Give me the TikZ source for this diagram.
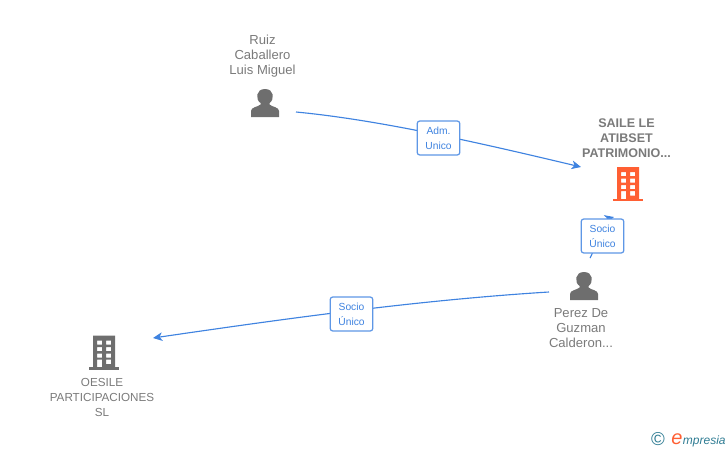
\documentclass[tikz,border=0pt]{standalone}
\usepackage{fontspec}
\setmainfont{Liberation Sans}
\usetikzlibrary{arrows.meta,positioning}
\definecolor{linkblue}{HTML}{3F83E0}
\definecolor{boxblue}{HTML}{5E97E6}
\definecolor{labelgray}{HTML}{7A7A7A}
\definecolor{icongray}{HTML}{6E6E6E}
\definecolor{firmorange}{HTML}{FF5F33}
\definecolor{logoteal}{HTML}{2F7C93}
\begin{document}
\begin{tikzpicture}[x=0.75pt,y=-0.75pt]
		\tikzset{
			person/.style={font=\fontsize{9.8}{11.2}\selectfont, text=labelgray, align=center, inner sep=0pt},
			firm/.style={person, font=\fontsize{8.75}{11.2}\selectfont},
			link/.style={draw=linkblue, line width=0.85pt},
			tag/.style={draw=boxblue, line width=0.95pt, rounded corners=2pt, fill=white, text=linkblue, align=center,
				font=\fontsize{7.7}{11.2}\selectfont, minimum width=32pt, minimum height=25.5pt, inner sep=0pt},
			tip/.style={-{Stealth[length=7pt,width=6.5pt,inset=2pt]}}
		}
		\useasboundingbox (0,0) rectangle (728,450);

		% PERSON: Ruiz
		\begin{scope}[shift={(265,103)}]
			\fill[icongray] (-14,14) -- (-14,8) .. controls (-14,4) and (-7,4) .. (-4.5,1.5) -- (-4.5,0)
			.. controls (-10,-4) and (-9,-14) .. (0,-14) .. controls (9,-14) and (10,-4) .. (4.5,0)
			-- (4.5,1.5) .. controls (7,4) and (14,4) .. (14,8) -- (14,14) -- cycle;
		\end{scope}
		\node[person] (ruiz) at (262.5,56) {Ruiz\\Caballero\\Luis Miguel};

		% PERSON: Perez
		\begin{scope}[shift={(584,286)}]
			\fill[icongray] (-14,14) -- (-14,8) .. controls (-14,4) and (-7,4) .. (-4.5,1.5) -- (-4.5,0)
			.. controls (-10,-4) and (-9,-14) .. (0,-14) .. controls (9,-14) and (10,-4) .. (4.5,0)
			-- (4.5,1.5) .. controls (7,4) and (14,4) .. (14,8) -- (14,14) -- cycle;
		\end{scope}
		\node[person] (perez) at (581,328) {Perez De\\Guzman\\Calderon...};

		% FIRM: Saile (orange)
		\begin{scope}[shift={(628,184)}]
			\fill[firmorange, even odd rule] (-11,-17) rectangle (11,15)
			(-7,-12) rectangle (-2,-8) (2,-12) rectangle (7,-8)
			(-7,-5.5) rectangle (-2,-1.5) (2,-5.5) rectangle (7,-1.5)
			(-7,1) rectangle (-2,5) (2,1) rectangle (7,5)
			(-7,7) rectangle (-2,15) (2,7) rectangle (7,11.5);
			\fill[firmorange] (-15,14.5) rectangle (15,17);
		\end{scope}
		\node[firm, font=\bfseries\fontsize{9.4}{11.2}\selectfont] (saile) at (626.5,138) {SAILE LE\\ATIBSET\\PATRIMONIO...};

		% FIRM: Oesile (gray)
		\begin{scope}[shift={(104,352.5)}]
			\fill[icongray, even odd rule] (-11,-17) rectangle (11,15)
			(-7,-12) rectangle (-2,-8) (2,-12) rectangle (7,-8)
			(-7,-5.5) rectangle (-2,-1.5) (2,-5.5) rectangle (7,-1.5)
			(-7,1) rectangle (-2,5) (2,1) rectangle (7,5)
			(-7,7) rectangle (-2,15) (2,7) rectangle (7,11.5);
			\fill[icongray] (-15,14.5) rectangle (15,17);
		\end{scope}
		\node[firm] (oesile) at (102,397.5) {OESILE\\PARTICIPACIONES\\SL};

		% Free ends of the links
		\coordinate (ruizend) at (296,112);
		\coordinate (sailein) at (581,167);
		\coordinate (saileout) at (614,217);
		\coordinate (perezup) at (590,258);
		\coordinate (perezleft) at (549,292);
		\coordinate (oesilein) at (153,338);

		% Links, with their labels on top
		\draw[link, tip] (ruizend) .. controls (380,120) and (480,143) .. (sailein);
		\draw[link, tip] (perezup) .. controls (600,240) and (595,222) .. (saileout);
		\draw[link, tip] (perezleft) .. controls (420,300) and (290,318) .. (oesilein);

		\node[tag] (adm) at (438.5,138) {Adm.\\Unico};
		\node[tag] (socioa) at (602.5,236) {Socio\\Único};
		\node[tag] (sociob) at (351.5,314) {Socio\\Único};

		% Logo
		\node[inner sep=0pt, text=logoteal, font=\fontsize{14}{14}\selectfont] (copy) at (658,439) {©};
		\node[inner sep=0pt, text=firmorange, font=\itshape\fontsize{15}{15}\selectfont, anchor=base west] (logoe) at (671,444) {e};
		\node[inner sep=0pt, text=logoteal, font=\itshape\fontsize{9}{12}\selectfont, anchor=base west] (logo) at (logoe.base east) {mpresia};

	\end{tikzpicture}
\end{document}
